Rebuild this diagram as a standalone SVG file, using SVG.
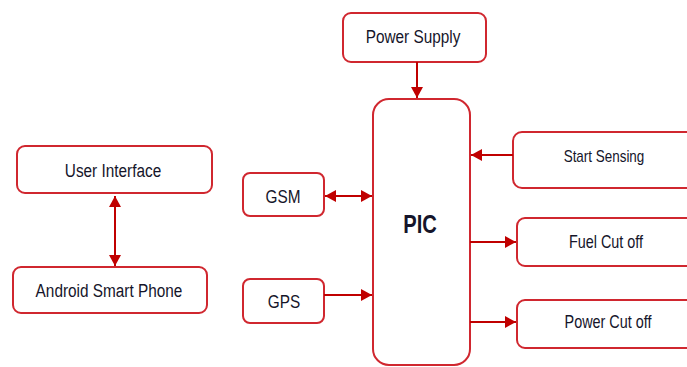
<svg xmlns="http://www.w3.org/2000/svg" width="687" height="367" viewBox="0 0 687 367">
<defs>
<style>
.box{fill:#fff;stroke:#d0272f;stroke-width:2}
.lbl{font-family:"Liberation Sans",Arial,sans-serif;font-size:16px;fill:#15152a;text-anchor:middle}
.con{stroke:#c00000;stroke-width:2;fill:none}
</style>
<marker id="ah" markerUnits="userSpaceOnUse" markerWidth="12" markerHeight="12" refX="11" refY="6" orient="auto">
<path d="M0,0 L11,6 L0,12 Z" fill="#c00000"/>
</marker>
<marker id="as" markerUnits="userSpaceOnUse" markerWidth="12" markerHeight="12" refX="0" refY="6" orient="auto">
<path d="M11,0 L0,6 L11,12 Z" fill="#c00000"/>
</marker>
</defs>
<rect width="687" height="367" fill="#fff"/>
<g id="user-interface"><rect class="box" x="17" y="146" width="195" height="47" rx="8"/><text class="lbl" transform="translate(113,177) scale(0.96,1.2)">User Interface</text></g>
<g id="android"><rect class="box" x="13" y="267" width="194" height="46" rx="8"/><text class="lbl" transform="translate(109,297) scale(0.96,1.2)">Android Smart Phone</text></g>
<g id="power-supply"><rect class="box" x="343" y="13" width="143" height="49" rx="8"/><text class="lbl" transform="translate(413,43) scale(0.96,1.2)">Power Supply</text></g>
<g id="pic"><rect class="box" x="373" y="99" width="97" height="266" rx="16"/><text class="lbl" transform="translate(420,233) scale(0.96,1.2)" style="font-size:21px;font-weight:bold">PIC</text></g>
<g id="gsm"><rect class="box" x="243" y="173" width="81" height="43" rx="7"/><text class="lbl" transform="translate(283,203) scale(0.96,1.2)">GSM</text></g>
<g id="gps"><rect class="box" x="243" y="279" width="81" height="44" rx="7"/><text class="lbl" transform="translate(284,308) scale(0.96,1.2)">GPS</text></g>
<g id="start-sensing"><rect class="box" x="513" y="132" width="190" height="56" rx="9"/><text class="lbl" transform="translate(604,162) scale(0.96,1.2)" style="font-size:14px">Start Sensing</text></g>
<g id="fuel-cut"><rect class="box" x="517" y="218" width="190" height="48" rx="8"/><text class="lbl" transform="translate(606,248) scale(0.96,1.2)" style="font-size:15px">Fuel Cut off</text></g>
<g id="power-cut"><rect class="box" x="517" y="300" width="190" height="48" rx="8"/><text class="lbl" transform="translate(608,328) scale(0.96,1.2)" style="font-size:15px">Power Cut off</text></g>
<g id="connectors">
<line class="con" x1="115" y1="196" x2="115" y2="266" marker-start="url(#as)" marker-end="url(#ah)"/>
<line class="con" x1="417" y1="62" x2="417" y2="98" marker-end="url(#ah)"/>
<line class="con" x1="325" y1="196" x2="372" y2="196" marker-start="url(#as)" marker-end="url(#ah)"/>
<line class="con" x1="324" y1="295" x2="372" y2="295" marker-end="url(#ah)"/>
<line class="con" x1="513" y1="155" x2="471" y2="155" marker-end="url(#ah)"/>
<line class="con" x1="470" y1="242" x2="516" y2="242" marker-end="url(#ah)"/>
<line class="con" x1="470" y1="322" x2="516" y2="322" marker-end="url(#ah)"/>
</g>
</svg>
